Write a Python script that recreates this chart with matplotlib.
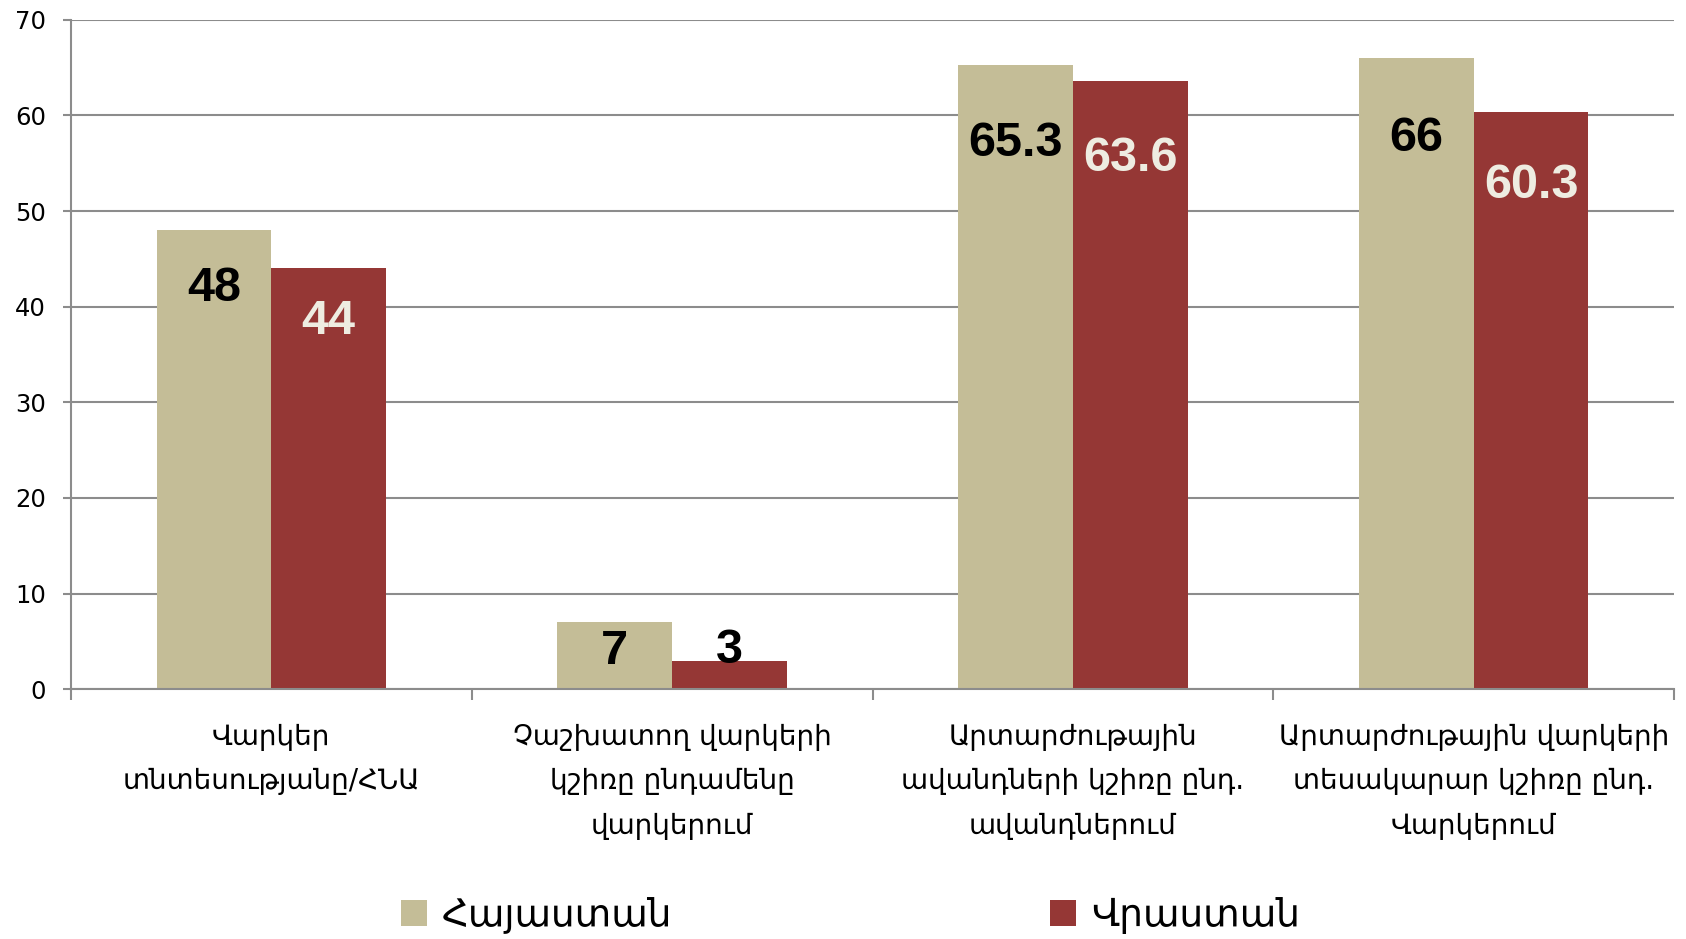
import numpy as np
import matplotlib
matplotlib.use("Agg")
import matplotlib.pyplot as plt
from matplotlib.ticker import FixedLocator

categories = [
    "Վարկեր\nտնտեսությանը/ՀՆԱ",
    "Չաշխատող վարկերի\nկշիռը ընդամենը\nվարկերում",
    "Արտարժութային\nավանդների կշիռը ընդ.\nավանդներում",
    "Արտարժութային վարկերի\nտեսակարար կշիռը ընդ.\nՎարկերում",
]
armenia = [48, 7, 65.3, 66]
georgia = [44, 3, 63.6, 60.3]
series_names = ["Հայաստան", "Վրաստան"]
yticks = [0, 10, 20, 30, 40, 50, 60, 70]

TAN = "#C4BD97"
RED = "#953735"
GRID = "#8C8C8C"
LIGHT = "#EEECE1"


def label_y(v):
    # где ставить подпись: внутри высоких столбцов, над совсем короткими
    if v > 20:
        return v * 0.873
    if v > 5:
        return v - 3.1
    return v + 1.1


def main():
    fig = plt.figure(figsize=(16.86, 9.39), dpi=100)
    ax = fig.add_axes([0.042, 0.266, 0.951, 0.713])

    x = np.arange(len(categories))
    w = 0.286

    ax.bar(x - w / 2, armenia, width=w, color=TAN, label=series_names[0], zorder=2)
    ax.bar(x + w / 2, georgia, width=w, color=RED, label=series_names[1], zorder=2)

    for xi, v in zip(x - w / 2, armenia):
        ax.text(xi, label_y(v), f"{v:g}", ha="center", va="center",
                fontsize=35, fontweight="bold", family="Liberation Sans",
                color="black", zorder=3)
    for xi, v in zip(x + w / 2, georgia):
        col = LIGHT if v > 5 else "black"
        ax.text(xi, label_y(v), f"{v:g}", ha="center", va="center",
                fontsize=35, fontweight="bold", family="Liberation Sans",
                color=col, zorder=3)

    ax.set_xlim(-0.5, len(categories) - 0.5)
    ax.set_ylim(0, 70)
    ax.set_yticks(yticks)
    ax.tick_params(axis="y", labelsize=17.5, length=6, width=1.5, color=GRID, pad=12)

    ax.set_xticks(x)
    ax.set_xticklabels(categories, fontsize=20, linespacing=1.75)
    ax.xaxis.set_minor_locator(FixedLocator(np.arange(-0.5, len(categories), 1)))
    ax.tick_params(axis="x", which="major", length=0, pad=24)
    ax.tick_params(axis="x", which="minor", length=8, width=1.5, color=GRID)

    ax.grid(axis="y", color=GRID, linewidth=1.5, zorder=0)
    ax.set_axisbelow(True)
    for side in ["top", "right"]:
        ax.spines[side].set_visible(False)
    for side in ["left", "bottom"]:
        ax.spines[side].set_color(GRID)
        ax.spines[side].set_linewidth(1.5)

    fig.legend(loc="center left", bbox_to_anchor=(0.2265, 0.025), ncol=2,
               frameon=False, fontsize=27, borderpad=0, handlelength=0.7,
               handleheight=0.7, handletextpad=0.4, columnspacing=10.06)

    fig.savefig("out.png", dpi=100)


if __name__ == "__main__":
    main()
